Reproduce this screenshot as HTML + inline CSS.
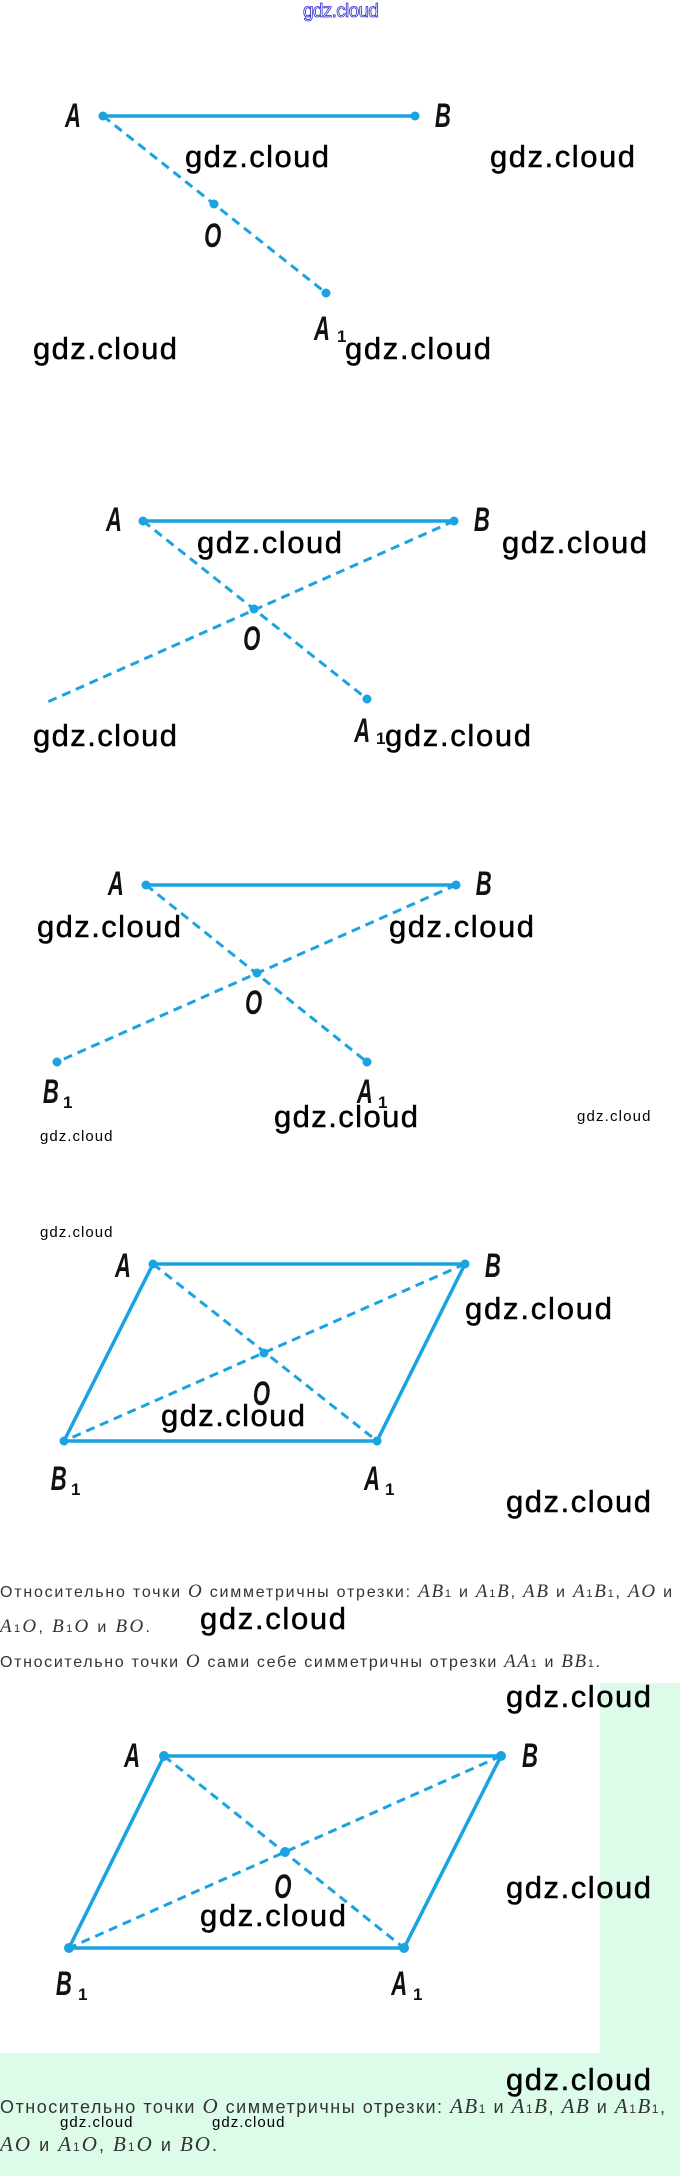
<!DOCTYPE html>
<html><head><meta charset="utf-8"><style>
html,body{margin:0;padding:0;background:#fff}
svg{display:block}
.wm{font-family:"Liberation Sans",sans-serif;font-size:31px;fill:#000;stroke:#000;stroke-width:0.5;letter-spacing:-1px}
.ws{font-family:"Liberation Sans",sans-serif;font-size:15px;fill:#000;letter-spacing:-0.5px}
.lb{font-family:"Liberation Sans",sans-serif;font-weight:bold;font-style:italic;font-size:34px;fill:#111}
.sb{font-family:"Liberation Sans",sans-serif;font-weight:bold;font-size:17px;fill:#111}
.s{stroke:#1aa3e0;stroke-width:3.5;fill:none}
.d{stroke:#1aa3e0;stroke-width:3;fill:none;stroke-dasharray:9 6}
.p{fill:#1aa3e0}
.t{font-family:"Liberation Sans",sans-serif;font-size:16px;fill:#333}
.t2{font-family:"Liberation Sans",sans-serif;font-size:18px;fill:#333}
.m{font-family:"Liberation Serif",serif;font-style:italic}
</style></head><body>
<svg width="680" height="2176" viewBox="0 0 680 2176" xmlns="http://www.w3.org/2000/svg">
<rect x="600" y="1683" width="80" height="370" fill="#dcfce9"/>
<rect x="0" y="2053" width="680" height="123" fill="#dcfce9"/>

<text x="303" y="17" font-family="Liberation Sans,sans-serif" font-size="19" fill="none" stroke="#2a2ad0" stroke-width="0.8" textLength="76">gdz.cloud</text>

<!-- Section 1 -->
<line class="s" x1="103" y1="116" x2="415" y2="116"/>
<line class="d" x1="103" y1="116" x2="326" y2="293"/>
<circle class="p" cx="103" cy="116" r="4.5"/><circle class="p" cx="415" cy="116" r="4.5"/>
<circle class="p" cx="214" cy="204" r="4.5"/><circle class="p" cx="326" cy="293" r="4.5"/>
<g transform="scale(0.65,1)">
<text class="lb" x="100" y="127">A</text><text class="lb" x="669" y="127">B</text>
<text class="lb" x="314" y="247">O</text><text class="lb" x="483" y="340">A</text>
</g><text class="sb" x="337" y="342">1</text>

<!-- Section 2 -->
<line class="s" x1="143" y1="521" x2="454" y2="521"/>
<line class="d" x1="143" y1="521" x2="367" y2="699"/>
<line class="d" x1="454" y1="521" x2="43" y2="704"/>
<circle class="p" cx="143" cy="521" r="4.5"/><circle class="p" cx="454" cy="521" r="4.5"/>
<circle class="p" cx="254" cy="609" r="4.5"/><circle class="p" cx="367" cy="699" r="4.5"/>
<g transform="scale(0.65,1)">
<text class="lb" x="163" y="531">A</text><text class="lb" x="729" y="531">B</text>
<text class="lb" x="374" y="650">O</text><text class="lb" x="545" y="742">A</text>
</g><text class="sb" x="376" y="744">1</text>

<!-- Section 3 -->
<line class="s" x1="146" y1="885" x2="456" y2="885"/>
<line class="d" x1="146" y1="885" x2="367" y2="1062"/>
<line class="d" x1="456" y1="885" x2="57" y2="1062"/>
<circle class="p" cx="146" cy="885" r="4.5"/><circle class="p" cx="456" cy="885" r="4.5"/>
<circle class="p" cx="257" cy="973" r="4.5"/><circle class="p" cx="367" cy="1062" r="4.5"/><circle class="p" cx="57" cy="1062" r="4.5"/>
<g transform="scale(0.65,1)">
<text class="lb" x="166" y="895">A</text><text class="lb" x="732" y="895">B</text>
<text class="lb" x="377" y="1014">O</text><text class="lb" x="66" y="1103">B</text><text class="lb" x="549" y="1103">A</text>
</g><text class="sb" x="63" y="1108">1</text><text class="sb" x="378" y="1108">1</text>

<!-- Section 4 -->
<polygon class="s" points="153,1264 465,1264 377,1441 64,1441"/>
<line class="d" x1="153" y1="1264" x2="377" y2="1441"/>
<line class="d" x1="465" y1="1264" x2="64" y2="1441"/>
<circle class="p" cx="153" cy="1264" r="4.5"/><circle class="p" cx="465" cy="1264" r="4.5"/>
<circle class="p" cx="264" cy="1353" r="4.5"/><circle class="p" cx="377" cy="1441" r="4.5"/><circle class="p" cx="64" cy="1441" r="4.5"/>
<g transform="scale(0.65,1)">
<text class="lb" x="177" y="1277">A</text><text class="lb" x="746" y="1277">B</text>
<text class="lb" x="389" y="1405">O</text><text class="lb" x="78" y="1490">B</text><text class="lb" x="560" y="1490">A</text>
</g><text class="sb" x="71" y="1495">1</text><text class="sb" x="385" y="1495">1</text>

<!-- Text block 1 -->
<text class="t" x="0" y="1597" textLength="672" lengthAdjust="spacing">Относительно точки <tspan class="m" font-size="19">O</tspan> симметричны отрезки: <tspan class="m" font-size="19">AB</tspan><tspan font-size="11">1</tspan> и <tspan class="m" font-size="19">A</tspan><tspan font-size="11">1</tspan><tspan class="m" font-size="19">B</tspan>, <tspan class="m" font-size="19">AB</tspan> и <tspan class="m" font-size="19">A</tspan><tspan font-size="11">1</tspan><tspan class="m" font-size="19">B</tspan><tspan font-size="11">1</tspan>, <tspan class="m" font-size="19">AO</tspan> и</text>
<text class="t" x="0" y="1632" textLength="150" lengthAdjust="spacing"><tspan class="m" font-size="19">A</tspan><tspan font-size="11">1</tspan><tspan class="m" font-size="19">O</tspan>, <tspan class="m" font-size="19">B</tspan><tspan font-size="11">1</tspan><tspan class="m" font-size="19">O</tspan> и <tspan class="m" font-size="19">BO</tspan>.</text>
<text class="t" x="0" y="1667" textLength="600" lengthAdjust="spacing">Относительно точки <tspan class="m" font-size="19">O</tspan> сами себе симметричны отрезки <tspan class="m" font-size="19">AA</tspan><tspan font-size="11">1</tspan> и <tspan class="m" font-size="19">BB</tspan><tspan font-size="11">1</tspan>.</text>

<!-- Section 5 -->
<polygon class="s" points="164,1756 501,1756 404,1948 69,1948"/>
<line class="d" x1="164" y1="1756" x2="404" y2="1948"/>
<line class="d" x1="501" y1="1756" x2="69" y2="1948"/>
<circle class="p" cx="164" cy="1756" r="5"/><circle class="p" cx="501" cy="1756" r="5"/>
<circle class="p" cx="285" cy="1852" r="5"/><circle class="p" cx="404" cy="1948" r="5"/><circle class="p" cx="69" cy="1948" r="5"/>
<g transform="scale(0.65,1)">
<text class="lb" x="191" y="1767">A</text><text class="lb" x="803" y="1767">B</text>
<text class="lb" x="422" y="1898">O</text><text class="lb" x="86" y="1995">B</text><text class="lb" x="602" y="1995">A</text>
</g><text class="sb" x="78" y="2000">1</text><text class="sb" x="413" y="2000">1</text>

<!-- Text block 2 -->
<text class="t2" x="0" y="2113" textLength="665" lengthAdjust="spacing">Относительно точки <tspan class="m" font-size="21">O</tspan> симметричны отрезки: <tspan class="m" font-size="21">AB</tspan><tspan font-size="12">1</tspan> и <tspan class="m" font-size="21">A</tspan><tspan font-size="12">1</tspan><tspan class="m" font-size="21">B</tspan>, <tspan class="m" font-size="21">AB</tspan> и <tspan class="m" font-size="21">A</tspan><tspan font-size="12">1</tspan><tspan class="m" font-size="21">B</tspan><tspan font-size="12">1</tspan>,</text>
<text class="t2" x="0" y="2151" textLength="217" lengthAdjust="spacing"><tspan class="m" font-size="21">AO</tspan> и <tspan class="m" font-size="21">A</tspan><tspan font-size="12">1</tspan><tspan class="m" font-size="21">O</tspan>, <tspan class="m" font-size="21">B</tspan><tspan font-size="12">1</tspan><tspan class="m" font-size="21">O</tspan> и <tspan class="m" font-size="21">BO</tspan>.</text>

<!-- Watermarks -->
<g class="wm">
<text x="185" y="167" textLength="143">gdz.cloud</text>
<text x="490" y="167" textLength="144">gdz.cloud</text>
<text x="33" y="359" textLength="143">gdz.cloud</text>
<text x="345" y="359" textLength="145">gdz.cloud</text>
<text x="197" y="553" textLength="144">gdz.cloud</text>
<text x="502" y="553" textLength="144">gdz.cloud</text>
<text x="33" y="746" textLength="143">gdz.cloud</text>
<text x="385" y="746" textLength="145">gdz.cloud</text>
<text x="37" y="937" textLength="143">gdz.cloud</text>
<text x="389" y="937" textLength="144">gdz.cloud</text>
<text x="274" y="1127" textLength="143">gdz.cloud</text>
<text x="465" y="1319" textLength="146">gdz.cloud</text>
<text x="161" y="1426" textLength="143">gdz.cloud</text>
<text x="506" y="1512" textLength="144">gdz.cloud</text>
<text x="200" y="1629" textLength="145">gdz.cloud</text>
<text x="506" y="1707" textLength="144">gdz.cloud</text>
<text x="506" y="1898" textLength="144">gdz.cloud</text>
<text x="200" y="1926" textLength="145">gdz.cloud</text>
<text x="506" y="2090" textLength="144">gdz.cloud</text>
</g>
<g class="ws">
<text x="577" y="1121" textLength="73">gdz.cloud</text>
<text x="40" y="1141" textLength="72">gdz.cloud</text>
<text x="40" y="1237" textLength="72">gdz.cloud</text>
<text x="60" y="2127" textLength="72">gdz.cloud</text>
<text x="212" y="2127" textLength="72">gdz.cloud</text>
</g>
</svg>
</body></html>
